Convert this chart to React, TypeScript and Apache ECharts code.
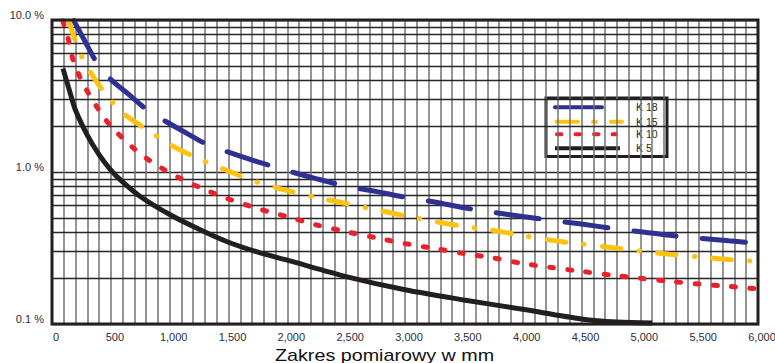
import React, { useEffect, useRef } from "react";
import * as echarts from "echarts";

// ---------- data ----------
const seriesNames = ["K 18", "K 15", "K 10", "K 5"];
const yTickLabels = ["0.1 %", "1.0 %", "10.0 %"];
const xTitle = "Zakres pomiarowy w mm";
const xGridStep = 100;
const xLabelStep = 500;
const yMinorLines = [0.2, 0.3, 0.4, 0.5, 0.6, 0.7, 0.8, 0.9, 2, 3, 4, 5, 6, 7, 8, 9];

const k18X = [130, 185, 280, 376, 495, 650, 800, 954, 1150, 1310, 1500, 1750, 2000, 2250, 2500, 2750, 3000, 3250, 3500, 3750, 4000, 4250, 4500, 4750, 5000, 5250, 5500, 5750, 5920];
const k18Y = [11.8, 9.9, 7.25, 5.32, 4.1, 3.25, 2.59, 2.18, 1.79, 1.53, 1.35, 1.165, 1.02, 0.902, 0.807, 0.746, 0.682, 0.635, 0.582, 0.543, 0.51, 0.481, 0.4545, 0.427, 0.405, 0.383, 0.367, 0.353, 0.344];

const k15X = [110, 140, 205, 255, 325, 430, 510, 620, 790, 1000, 1200, 1450, 1750, 2000, 2250, 2500, 2750, 3000, 3250, 3500, 3750, 4000, 4250, 4500, 4750, 5000, 5250, 5500, 5750, 6000];
const k15Y = [11.5, 9.9, 7.1, 5.7, 4.55, 3.45, 2.9, 2.38, 1.94, 1.52, 1.27, 1.05, 0.855, 0.755, 0.68, 0.62, 0.565, 0.515, 0.473, 0.438, 0.413, 0.382, 0.355, 0.336, 0.319, 0.302, 0.288, 0.276, 0.266, 0.258];

const k10X = [70, 100, 140, 175, 235, 305, 390, 480, 580, 700, 830, 950, 1100, 1250, 1500, 1750, 2000, 2250, 2500, 2750, 3000, 3250, 3500, 3750, 4000, 4250, 4500, 4750, 5000, 5250, 5500, 5750, 6000];
const k10Y = [11.3, 9.4, 7.4, 5.6, 4.25, 3.35, 2.62, 2.09, 1.73, 1.42, 1.19, 1.04, 0.9, 0.795, 0.665, 0.574, 0.508, 0.448, 0.405, 0.37, 0.338, 0.314, 0.291, 0.272, 0.25, 0.235, 0.222, 0.21, 0.2, 0.191, 0.183, 0.177, 0.17];

const k5X = [93, 150, 200, 300, 400, 500, 600, 750, 1000, 1250, 1500, 1750, 2000, 2500, 3000, 3500, 4000, 4500, 4800, 5100];
const k5Y = [4.8, 3.4, 2.55, 1.75, 1.3, 1.03, 0.86, 0.69, 0.525, 0.42, 0.345, 0.297, 0.263, 0.205, 0.168, 0.144, 0.125, 0.108, 0.103, 0.1015];

// ---------- layout / style ----------
const W = 775;
const H = 363;
const GRID = { left: 52, top: 20, right: 17, bottom: 39 };
const COLORS = ["#2e3192", "#fec20f", "#e8212b", "#231f20"];
const TEXT_COLOR = "#2d2d40";
const FONT = "Liberation Sans, Arial, sans-serif";

const pairs = (xs: number[], ys: number[]) => xs.map((x, i) => [x, ys[i]]);

export default function App() {
  const ref = useRef<HTMLDivElement>(null);

  useEffect(() => {
    if (!ref.current) return;
    const chart = echarts.init(ref.current, undefined, { renderer: "svg" });

    const gw = W - GRID.left - GRID.right;
    const gh = H - GRID.top - GRID.bottom;

    const lgX = 546;
    const lgY = 98;
    const rowY = [9.3, 23.7, 36.3, 50.3];
    const legend = {
      type: "group",
      z: 200,
      children: [
        {
          type: "rect",
          shape: { x: lgX, y: lgY, width: 121, height: 58.5 },
          style: { fill: "#fff", stroke: "#231f20", lineWidth: 3 },
        },
        {
          type: "line",
          shape: { x1: lgX + 9, y1: lgY + rowY[0], x2: lgX + 56, y2: lgY + rowY[0] },
          style: { stroke: COLORS[0], lineWidth: 4, lineCap: "round" },
        },
        {
          type: "line",
          shape: { x1: lgX + 10.5, y1: lgY + rowY[1], x2: lgX + 76, y2: lgY + rowY[1] },
          style: { stroke: COLORS[1], lineWidth: 4, lineCap: "round", lineDash: [21.5, 15, 3, 15] },
        },
        {
          type: "line",
          shape: { x1: lgX + 11, y1: lgY + rowY[2], x2: lgX + 70, y2: lgY + rowY[2] },
          style: { stroke: COLORS[2], lineWidth: 4, lineCap: "round", lineDash: [4.5, 14] },
        },
        {
          type: "line",
          shape: { x1: lgX + 9, y1: lgY + rowY[3], x2: lgX + 74, y2: lgY + rowY[3] },
          style: { stroke: COLORS[3], lineWidth: 4 },
        },
        ...seriesNames.map((n, i) => ({
          type: "text",
          style: {
            text: n,
            x: lgX + 90,
            y: lgY + rowY[i],
            verticalAlign: "middle",
            fill: "#2a2a2a",
            font: `10.5px ${FONT}`,
          },
        })),
      ],
    };

    const lineCommon = {
      type: "line",
      symbol: "none",
      smooth: 0.3,
      z: 4,
    };

    const option: any = {
      animation: false,
      backgroundColor: "#fff",
      grid: { ...GRID, show: false, outerBoundsMode: "none" },
      xAxis: {
        type: "value",
        min: 0,
        max: 6000,
        interval: xGridStep,
        axisLine: { show: false },
        axisTick: { show: false },
        axisLabel: {
          color: TEXT_COLOR,
          fontSize: 11,
          fontFamily: FONT,
          margin: 7,
          padding: [0, 0, 0, 8],
          formatter: (v: number) =>
            v % xLabelStep === 0 ? v.toLocaleString("en-US") : "",
        },
        splitLine: { show: true, lineStyle: { color: "#727272", width: 1.5 } },
      },
      yAxis: {
        type: "log",
        logBase: 10,
        min: 0.1,
        max: 10,
        axisLine: { show: false },
        axisTick: { show: false },
        axisLabel: {
          color: TEXT_COLOR,
          fontSize: 11,
          fontFamily: FONT,
          margin: 8,
          verticalAlign: "bottom",
          lineHeight: 10,
          formatter: (v: number) => {
            const idx = Math.round(Math.log10(v)) + 1;
            return yTickLabels[idx] ?? "";
          },
        },
        splitLine: { show: true, lineStyle: { color: "#262626", width: 1.3 } },
      },
      series: [
        {
          ...lineCommon,
          name: seriesNames[0],
          data: pairs(k18X, k18Y),
          lineStyle: { color: COLORS[0], width: 5, type: [43, 26.2], cap: "round", dashOffset: 55.5 },
        },
        {
          ...lineCommon,
          name: seriesNames[1],
          data: pairs(k15X, k15Y),
          lineStyle: { color: COLORS[1], width: 5, type: [19, 18, 0.5, 18], cap: "round", dashOffset: 43.5 },
        },
        {
          ...lineCommon,
          name: seriesNames[2],
          data: pairs(k10X, k10Y),
          lineStyle: { color: COLORS[2], width: 5, type: [4, 14.3], cap: "round", dashOffset: 8.5 },
        },
        {
          ...lineCommon,
          name: seriesNames[3],
          data: pairs(k5X, k5Y),
          lineStyle: { color: COLORS[3], width: 5 },
          markLine: {
            silent: true,
            z: 1,
            symbol: "none",
            label: { show: false },
            lineStyle: { color: "#262626", width: 1.3, type: "solid" },
            data: yMinorLines.map((v) => ({ yAxis: v })),
          },
        },
      ],
      graphic: [
        {
          type: "rect",
          z: 150,
          shape: { x: GRID.left, y: GRID.top, width: gw, height: gh },
          style: { fill: "none", stroke: "#231f20", lineWidth: 3 },
        },
        legend,
        {
          type: "text",
          z: 150,
          x: 275,
          y: 354.5,
          scaleX: 1.16,
          style: {
            text: xTitle,
            x: 0,
            y: 0,
            verticalAlign: "middle",
            fill: "#111",
            font: `17px ${FONT}`,
          },
        },
      ],
    };

    chart.setOption(option);
    return () => chart.dispose();
  }, []);

  return (
    <div
      ref={ref}
      style={{ position: "fixed", left: 0, top: 0, width: W, height: H, background: "#fff" }}
    />
  );
}
